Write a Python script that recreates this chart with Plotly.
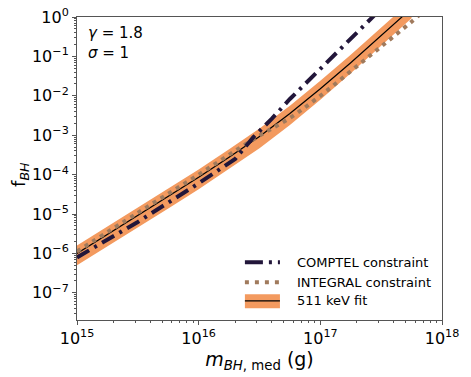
import plotly.graph_objects as go

# ---- data ----
fit_mass = [1e15, 10**15.25, 10**15.5, 10**15.75, 1e16, 10**16.25, 10**16.5, 10**16.75, 1e17, 10**17.25, 10**17.5, 10**17.75]
fit_f = [1.0e-6, 3.02e-6, 9.12e-6, 2.75e-5, 8.51e-5, 2.75e-4, 9.33e-4, 3.55e-3, 1.51e-2, 6.92e-2, 3.31e-1, 1.66]
fit_upper = [1.58e-6, 4.79e-6, 1.45e-5, 4.37e-5, 1.35e-4, 4.37e-4, 1.48e-3, 5.62e-3, 2.4e-2, 1.1e-1, 5.25e-1, 2.63]
fit_lower = [5.0e-7, 1.51e-6, 4.57e-6, 1.38e-5, 4.27e-5, 1.38e-4, 4.68e-4, 1.82e-3, 7.94e-3, 3.72e-2, 1.82e-1, 0.93]

integral_mass = [1e15, 10**15.5, 1e16, 10**16.45, 10**16.75, 1e17, 10**17.25, 10**17.5, 10**17.75, 10**17.85]
integral_f = [1.12e-6, 1.07e-5, 1.0e-4, 7.9e-4, 2.75e-3, 1.0e-2, 4.2e-2, 1.78e-1, 7.6e-1, 1.41]

comptel_mass = [1e15, 10**15.5, 1e16, 10**16.3, 10**16.45, 10**16.6, 10**16.75, 1e17, 10**17.25, 10**17.45]
comptel_f = [7.9e-7, 6.3e-6, 6.0e-5, 2.5e-4, 8.9e-4, 2.6e-3, 8.3e-3, 4.7e-2, 2.7e-1, 1.15]

y_tickvals = [1e0, 1e-1, 1e-2, 1e-3, 1e-4, 1e-5, 1e-6, 1e-7]
y_ticktext = ["10<sup>0</sup>", "10<sup>−1</sup>", "10<sup>−2</sup>", "10<sup>−3</sup>",
              "10<sup>−4</sup>", "10<sup>−5</sup>", "10<sup>−6</sup>", "10<sup>−7</sup>"]
x_tickvals = [1e15, 1e16, 1e17, 1e18]
x_ticktext = ["10<sup>15</sup>", "10<sup>16</sup>", "10<sup>17</sup>", "10<sup>18</sup>"]

legend_labels = ["COMPTEL constraint", "INTEGRAL constraint", "511 keV fit"]

ORANGE = "#f39a5f"
DARK = "#22163a"
BROWN = "#a07a5c"
FONT = "DejaVu Sans"

fig = go.Figure()

# 511 keV band
fig.add_trace(go.Scatter(
    x=fit_mass + fit_mass[::-1], y=fit_upper + fit_lower[::-1],
    fill="toself", fillcolor=ORANGE, line=dict(width=0), mode="lines",
    hoverinfo="skip", showlegend=False))
# fit line
fig.add_trace(go.Scatter(x=fit_mass, y=fit_f, mode="lines",
                         line=dict(color="black", width=1.2), showlegend=False))
# INTEGRAL
fig.add_trace(go.Scatter(x=integral_mass, y=integral_f, mode="lines",
                         line=dict(color=BROWN, width=4, dash="4px,5px", shape="spline"), showlegend=False))
# COMPTEL
fig.add_trace(go.Scatter(x=comptel_mass, y=comptel_f, mode="lines",
                         line=dict(color=DARK, width=4, dash="14px,6px,3px,6px"), showlegend=False))

# ---- manual legend (paper coords) ----
lx0, lx1, ltx = 0.46, 0.556, 0.597
ly = [0.191, 0.125, 0.063]
fig.add_shape(type="line", xref="paper", yref="paper", x0=lx0, x1=lx1, y0=ly[0], y1=ly[0],
              line=dict(color=DARK, width=4, dash="18px,6px,3px,6px"))
fig.add_shape(type="line", xref="paper", yref="paper", x0=lx0, x1=lx1, y0=ly[1], y1=ly[1],
              line=dict(color=BROWN, width=4, dash="4px,6px"))
fig.add_shape(type="rect", xref="paper", yref="paper", x0=lx0, x1=lx1, y0=ly[2] - 0.024, y1=ly[2] + 0.022,
              fillcolor=ORANGE, line=dict(width=0))
fig.add_shape(type="line", xref="paper", yref="paper", x0=lx0, x1=lx1, y0=ly[2], y1=ly[2],
              line=dict(color="black", width=1.2))
for lab, yy in zip(legend_labels, ly):
    fig.add_annotation(xref="paper", yref="paper", x=ltx, y=yy, text=lab, showarrow=False,
                       xanchor="left", yanchor="middle", font=dict(family=FONT, size=13, color="black"))

fig.add_annotation(xref="paper", yref="paper", x=0.025, y=0.985,
                   text="<i>γ</i> = 1.8<br><i>σ</i> = 1", showarrow=False, align="left",
                   xanchor="left", yanchor="top", font=dict(family=FONT, size=15, color="black"))

# y-axis title as rotated annotation
fig.add_annotation(xref="paper", yref="paper", x=-0.158, y=0.48, text="f<sub><i>BH</i></sub>",
                   showarrow=False, textangle=-90, xanchor="center", yanchor="middle",
                   font=dict(family=FONT, size=18, color="black"))

axis_common = dict(showline=True, linecolor="#555555", linewidth=1, mirror=True,
                   ticks="outside", ticklen=4, tickcolor="#555555", showgrid=False, zeroline=False,
                   automargin=False,
                   tickfont=dict(family=FONT, size=16, color="black"))

fig.update_xaxes(type="log", range=[15, 18], tickvals=x_tickvals, ticktext=x_ticktext,
                 minor=dict(ticks="outside", ticklen=2, tickcolor="#555555", dtick="D1", showgrid=False),
                 title=dict(text="<i>m</i><sub><i>BH</i>, med</sub> (g)", font=dict(family=FONT, size=19, color="black"),
                            standoff=0),
                 **axis_common)
fig.update_yaxes(type="log", range=[-7.69, 0], tickvals=y_tickvals, ticktext=y_ticktext,
                 minor=dict(ticks="outside", ticklen=2, tickcolor="#555555", dtick="D1", showgrid=False),
                 **axis_common)

fig.update_layout(width=471, height=377, margin=dict(l=77, r=29, t=17, b=57),
                  plot_bgcolor="white", paper_bgcolor="white", showlegend=False)

fig.write_html("out.html", config={"displayModeBar": False},
               post_script="document.body.style.margin='0';document.body.style.overflow='hidden';")
